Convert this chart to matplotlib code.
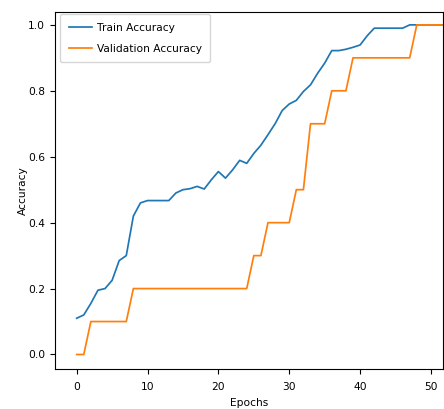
import matplotlib
matplotlib.use("Agg")
import matplotlib.pyplot as plt

epochs = list(range(53))
train_acc = [0.11, 0.12, 0.155, 0.195, 0.20, 0.225, 0.285, 0.30, 0.42, 0.46,
             0.467, 0.467, 0.467, 0.467, 0.49, 0.50, 0.503, 0.51, 0.502, 0.53,
             0.555, 0.535, 0.56, 0.589, 0.58, 0.61, 0.635, 0.667, 0.70, 0.74,
             0.76, 0.771, 0.798, 0.818, 0.853, 0.884, 0.922, 0.922, 0.926, 0.932,
             0.939, 0.967, 0.99, 0.99, 0.99, 0.99, 0.99, 1.0, 1.0, 1.0,
             1.0, 1.0, 1.0]
val_acc = [0.0, 0.0, 0.1, 0.1, 0.1, 0.1, 0.1, 0.1, 0.2, 0.2,
           0.2, 0.2, 0.2, 0.2, 0.2, 0.2, 0.2, 0.2, 0.2, 0.2,
           0.2, 0.2, 0.2, 0.2, 0.2, 0.3, 0.3, 0.4, 0.4, 0.4,
           0.4, 0.5, 0.5, 0.7, 0.7, 0.7, 0.8, 0.8, 0.8, 0.9,
           0.9, 0.9, 0.9, 0.9, 0.9, 0.9, 0.9, 0.9, 1.0, 1.0,
           1.0, 1.0, 1.0]
xticks = [0, 10, 20, 30, 40, 50]
yticks = [0.0, 0.2, 0.4, 0.6, 0.8, 1.0]

fs = 7.7
fig = plt.figure(figsize=(4.44, 4.09), dpi=100)
ax = fig.add_axes([55 / 444, 1 - 369 / 409, (443 - 55) / 444, (369 - 11.7) / 409])
ax.plot(epochs, train_acc, color="#1f77b4", lw=1.25, label="Train Accuracy")
ax.plot(epochs, val_acc, color="#ff7f0e", lw=1.25, label="Validation Accuracy")
ax.set_xlim(-3.06, 51.7)
ax.set_ylim(-0.044, 1.040)
ax.set_xticks(xticks)
ax.set_xticklabels([str(t) for t in xticks])
ax.set_yticks(yticks)
ax.set_yticklabels([f"{t:.1f}" for t in yticks])
ax.tick_params(axis="x", labelsize=fs, pad=5.5)
ax.tick_params(axis="y", labelsize=fs)
ax.set_xlabel("Epochs", fontsize=fs, labelpad=5)
ax.set_ylabel("Accuracy", fontsize=fs, labelpad=0.5)
ax.legend(loc="upper left", fontsize=fs, bbox_to_anchor=(0.0129, 0.9936),
          borderaxespad=0, borderpad=0.8, labelspacing=1.05,
          handlelength=2.2, handletextpad=0.45)
fig.savefig("out.png", dpi=100)
